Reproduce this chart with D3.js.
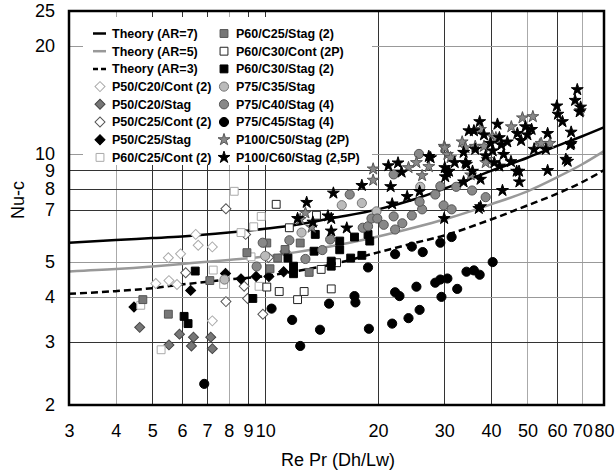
<!DOCTYPE html>
<html>
<head>
<meta charset="utf-8">
<script src="https://cdn.jsdelivr.net/npm/d3@7"></script>
<style>
  body { margin: 0; background: #fff; }
  text { font-family: "Liberation Sans", Arial, sans-serif; }
</style>
</head>
<body>
<script>
//==============================================================================
// DATA
//==============================================================================

const xTicks = [3, 4, 5, 6, 7, 8, 9, 10, 20, 30, 40, 50, 60, 70, 80];
const yTicks = [2, 3, 4, 5, 7, 8, 9, 10, 20, 25];
const xGrid = [4, 5, 6, 7, 8, 9, 10, 20, 30, 40, 50, 60, 70];
const yGrid = [3, 4, 5, 7, 8, 9, 10, 20];

// theory curves
const theoryX = [3, 4, 5, 6, 8, 10, 12, 15, 20, 25, 30, 40, 50, 60, 70, 80];
const theoryAR7 = [5.66, 5.76, 5.83, 5.89, 6.04, 6.19, 6.34, 6.62, 7.01, 7.48, 8.00, 8.97, 9.76, 10.53, 11.2, 11.86];
const theoryAR5 = [4.71, 4.78, 4.86, 4.94, 5.07, 5.18, 5.32, 5.53, 5.89, 6.24, 6.57, 7.24, 7.87, 8.61, 9.36, 10.18];
const theoryAR3 = [4.08, 4.15, 4.23, 4.33, 4.47, 4.57, 4.71, 4.92, 5.32, 5.65, 5.93, 6.57, 7.19, 7.75, 8.35, 9.01];

// measured points [RePr(Dh/Lw), Nu-c]
const p50c20Cont = [[5.11, 4.36], [5.54, 4.44], [5.82, 4.33], [5.52, 5.14], [5.95, 5.27], [6.53, 5.97],
  [6.63, 5.57], [7.23, 5.51], [7.23, 3.43]];
const p50c20Stag = [[4.63, 3.29], [5.54, 2.94], [5.91, 3.15], [6.44, 3.09], [6.36, 2.92], [7.16, 3.09], [7.23, 2.87]];
const p50c25Cont = [[6.14, 4.67], [7.86, 7.04], [7.86, 3.88], [8.79, 4.28], [8.87, 5.97], [8.98, 3.96],
  [9.86, 3.58], [10.2, 5.15], [11.3, 5.35]];
const p50c25Stag = [[4.47, 3.75], [6.33, 4.17], [7.84, 4.65], [8.62, 4.49], [9.46, 4.56], [10.23, 4.56], [11.2, 4.70]];
const p60c25Cont = [[5.28, 2.85], [4.66, 3.79], [7.27, 4.75], [7.75, 4.33], [8.27, 7.87], [8.62, 6.04],
  [9.32, 6.27], [9.76, 6.70], [9.63, 4.28], [9.17, 5.17]];
const p60c25Stag = [[4.72, 3.93], [5.52, 3.58], [7.12, 4.44], [8.94, 5.31], [10.3, 4.79], [11.3, 5.42],
  [12.4, 5.65], [13.1, 4.68], [10.1, 5.65], [10.8, 5.13]];
const p60c30Cont = [[10.7, 7.24], [10.9, 4.14], [12.7, 4.14], [15.0, 4.21], [12.2, 3.93], [13.7, 6.75],
  [11.6, 6.23], [14.1, 4.77], [15.5, 4.98], [10.1, 4.26]];
const p60c30Stag = [[6.51, 4.72], [6.08, 3.53], [6.23, 3.37], [9.27, 3.96], [11.9, 4.87], [11.9, 4.64],
  [13.5, 5.36], [13.6, 5.97], [15.0, 5.03], [15.0, 4.87], [15.8, 5.72], [15.8, 5.41], [16.9, 5.13],
  [18.1, 5.22], [17.3, 5.87], [18.8, 5.97], [19.0, 5.72], [11.5, 5.13]];
const p75c35Stag = [[7.79, 4.47], [12.5, 6.04], [16.0, 7.20], [18.1, 7.30], [19.8, 6.92], [10.0, 5.2], [25.9, 8.1]];
const p75c40Stag = [[9.85, 5.66], [9.49, 4.86], [11.6, 5.75], [12.8, 5.10], [14.2, 5.40], [14.9, 5.78],
  [16.8, 7.71], [18.2, 6.23], [18.8, 6.29], [19.2, 6.61], [19.9, 6.61], [20.7, 6.35], [22.0, 6.70],
  [22.2, 6.16], [23.2, 6.41], [24.6, 6.74], [26.2, 7.01], [25.8, 7.36], [22.0, 8.77], [25.7, 10.0],
  [29.3, 8.13], [29.9, 7.19], [31.4, 7.01], [32.3, 8.10], [35.6, 7.91], [38.7, 7.58], [28.4, 7.71]];
const p75c45Stag = [[6.88, 2.29], [10.4, 3.71], [11.8, 3.45], [12.4, 2.92], [14.0, 3.24], [14.8, 3.83],
  [17.3, 4.02], [17.4, 3.86], [18.9, 3.26], [18.8, 4.83], [21.8, 3.37], [22.2, 4.12], [22.8, 4.02],
  [24.1, 3.49], [25.3, 4.27], [25.8, 3.68], [28.4, 4.38], [29.3, 4.47], [30.6, 4.50], [29.5, 4.00],
  [32.5, 4.21], [34.4, 4.70], [36.0, 4.74], [37.3, 4.61], [40.4, 5.00], [22.2, 5.26], [24.6, 5.52],
  [26.3, 5.33], [29.3, 5.66], [31.4, 5.87]];
const p100c50Stag = [[12.8, 6.85], [12.4, 6.57], [13.3, 6.25], [19.4, 9.08], [19.4, 8.45], [24.1, 9.16],
  [25.3, 9.46], [26.2, 8.70], [27.3, 9.22], [30.0, 10.5], [30.6, 9.97], [30.1, 10.4], [33.5, 10.8],
  [34.2, 10.4], [36.3, 10.5], [37.5, 11.7], [40.3, 11.2], [41.2, 11.1], [45.3, 11.9], [48.5, 12.6],
  [51.7, 12.7], [38.3, 10.5], [39.0, 9.66], [38.7, 9.46], [31.2, 9.76], [35.3, 8.74], [53.9, 10.6],
  [57.4, 10.7], [54.4, 10.7], [69.2, 13.2]];
const p100c60Stag = [[12.9, 7.33], [15.2, 7.78], [18.1, 8.17], [21.6, 8.11], [21.3, 9.27], [22.6, 9.44],
  [23.1, 8.90], [27.3, 9.84], [23.9, 7.61], [25.8, 7.86], [13.4, 6.46], [15.0, 6.61], [16.5, 6.22],
  [15.0, 6.10], [12.2, 6.61], [30.1, 9.16], [32.0, 9.46], [30.5, 8.87], [34.2, 9.46], [35.7, 8.95],
  [37.3, 12.3], [34.9, 11.6], [36.0, 11.6], [38.3, 11.3], [41.6, 12.1], [42.1, 11.1], [43.2, 9.97],
  [45.2, 9.52], [47.5, 8.95], [47.6, 8.36], [42.9, 7.91], [56.6, 8.99], [64.0, 9.54], [65.4, 10.7],
  [56.6, 11.4], [59.9, 13.6], [60.3, 12.9], [62.0, 12.3], [67.9, 15.1], [67.0, 14.1], [69.3, 13.5],
  [68.9, 13.1], [65.4, 11.5], [52.1, 10.3], [50.0, 11.3], [49.4, 11.9], [51.3, 11.7], [48.1, 10.9],
  [44.2, 10.8], [42.6, 10.6], [39.9, 10.7], [36.3, 10.3], [33.8, 10.1], [40.4, 10.2], [38.7, 9.88],
  [40.8, 9.46], [37.5, 8.50], [33.8, 8.36], [37.5, 7.13], [30.0, 6.61], [56.0, 10.3], [63.3, 9.66],
  [65.1, 10.6], [47.0, 11.4], [30.9, 8.95], [30.2, 8.64], [27.6, 9.76], [46.8, 8.95], [42.1, 9.25],
  [34.4, 9.36], [14.7, 6.72], [21.8, 7.26], [37.1, 7.05]];

//==============================================================================
// PARAMETERS
//==============================================================================

const W = 616, H = 476;
const plot = { left: 69, right: 604, top: 11, bottom: 405 };

const x = d3.scaleLog().domain([3, 80]).range([plot.left, plot.right]);
const y = d3.scaleLog().domain([2, 25]).range([plot.bottom, plot.top]);

const lightX = new Set([4, 8, 50, 70]);
const lightY = new Set([4, 5, 10, 20]);

const theories = [
  { name: 'Theory (AR=7)', values: theoryAR7, color: '#000', dash: null, legendDash: null },
  { name: 'Theory (AR=5)', values: theoryAR5, color: '#999', dash: null, legendDash: null },
  { name: 'Theory (AR=3)', values: theoryAR3, color: '#000', dash: '7,4', legendDash: '5,3' }
];

const series = [
  { name: 'P50/C20/Cont (2)', data: p50c20Cont, shape: 'diamond', fill: '#fff', stroke: '#aaa' },
  { name: 'P50/C20/Stag', data: p50c20Stag, shape: 'diamond', fill: '#777', stroke: '#444' },
  { name: 'P50/C25/Cont (2)', data: p50c25Cont, shape: 'diamond', fill: '#fff', stroke: '#555' },
  { name: 'P50/C25/Stag', data: p50c25Stag, shape: 'diamond', fill: '#000', stroke: '#000' },
  { name: 'P60/C25/Cont (2)', data: p60c25Cont, shape: 'square', fill: '#fff', stroke: '#aaa' },
  { name: 'P60/C25/Stag (2)', data: p60c25Stag, shape: 'square', fill: '#777', stroke: '#555' },
  { name: 'P60/C30/Cont (2P)', data: p60c30Cont, shape: 'square', fill: '#fff', stroke: '#222' },
  { name: 'P60/C30/Stag (2)', data: p60c30Stag, shape: 'square', fill: '#000', stroke: '#000' },
  { name: 'P75/C35/Stag', data: p75c35Stag, shape: 'circle', fill: '#bbb', stroke: '#777' },
  { name: 'P75/C40/Stag (4)', data: p75c40Stag, shape: 'circle', fill: '#888', stroke: '#555' },
  { name: 'P75/C45/Stag (4)', data: p75c45Stag, shape: 'circle', fill: '#000', stroke: '#000' },
  { name: 'P100/C50/Stag (2P)', data: p100c50Stag, shape: 'star', fill: '#888', stroke: '#555' },
  { name: 'P100/C60/Stag (2,5P)', data: p100c60Stag, shape: 'star', fill: '#000', stroke: '#000' }
];

const symbols = {
  diamond: d3.symbol().type(d3.symbolSquare).size(50),
  square: d3.symbol().type(d3.symbolSquare).size(62),
  circle: d3.symbol().type(d3.symbolCircle).size(66),
  star: d3.symbol().type(d3.symbolStar).size(44)
};
const rot = s => s.shape === 'diamond' ? ' rotate(45)' : '';

const svg = d3.select('body').append('svg')
  .attr('width', W)
  .attr('height', H);

svg.append('rect').attr('width', W).attr('height', H).attr('fill', '#fff');

//==============================================================================
// DRAW
//==============================================================================

// grid lines
svg.append('g').selectAll('line')
  .data(xGrid)
  .enter().append('line')
  .attr('x1', d => Math.round(x(d)) + 0.5).attr('x2', d => Math.round(x(d)) + 0.5)
  .attr('y1', plot.top).attr('y2', plot.bottom)
  .attr('stroke', d => lightX.has(d) ? '#aaa' : '#333')
  .attr('stroke-width', 1);

svg.append('g').selectAll('line')
  .data(yGrid)
  .enter().append('line')
  .attr('y1', d => Math.round(y(d)) + 0.5).attr('y2', d => Math.round(y(d)) + 0.5)
  .attr('x1', plot.left).attr('x2', plot.right)
  .attr('stroke', d => lightY.has(d) ? '#999' : '#333')
  .attr('stroke-width', 1);

// axes (labels only)
const xAxis = svg.append('g')
  .attr('transform', `translate(0,${plot.bottom})`)
  .call(d3.axisBottom(x).tickValues(xTicks).tickFormat(d3.format('d')).tickSize(0).tickPadding(19));
const yAxis = svg.append('g')
  .attr('transform', `translate(${plot.left},0)`)
  .call(d3.axisLeft(y).tickValues(yTicks).tickFormat(d3.format('d')).tickSize(0).tickPadding(14));
[xAxis, yAxis].forEach(a => {
  a.select('.domain').remove();
  a.selectAll('text').style('font-size', '18px').attr('fill', '#000')
    .style('font-family', '"Liberation Sans", Arial, sans-serif');
});

// axis titles
svg.append('text')
  .attr('x', 338).attr('y', 466)
  .attr('text-anchor', 'middle')
  .style('font-size', '18px')
  .text('Re Pr (Dh/Lw)');
svg.append('text')
  .attr('transform', 'translate(24,200) rotate(-90)')
  .attr('text-anchor', 'middle')
  .style('font-size', '18px')
  .text('Nu-c');

// legend background
svg.append('rect')
  .attr('x', 83).attr('y', 17).attr('width', 289).attr('height', 148)
  .attr('fill', '#fff');

// theory curves
const line = d3.line()
  .x((d, i) => x(theoryX[i]))
  .y(d => y(d))
  .curve(d3.curveMonotoneX);

svg.append('g').selectAll('path')
  .data(theories)
  .enter().append('path')
  .attr('d', d => line(d.values))
  .attr('fill', 'none')
  .attr('stroke', d => d.color)
  .attr('stroke-width', 2.5)
  .attr('stroke-dasharray', d => d.dash);

// points
series.forEach(s => {
  svg.append('g').selectAll('path')
    .data(s.data)
    .enter().append('path')
    .attr('transform', d => `translate(${x(d[0])},${y(d[1])})` + rot(s))
    .attr('d', symbols[s.shape]())
    .attr('fill', s.fill)
    .attr('stroke', s.stroke)
    .attr('stroke-width', 1);
});

// plot border
svg.append('rect')
  .attr('x', plot.left).attr('y', plot.top)
  .attr('width', plot.right - plot.left).attr('height', plot.bottom - plot.top)
  .attr('fill', 'none').attr('stroke', '#000').attr('stroke-width', 2.5);

// legend
const legendItems = theories.map(t => ({ kind: 'line', t }))
  .concat(series.map(s => ({ kind: 'symbol', s })));
const rowY = i => 33.5 + (i % 8) * 17.7;
const colX = i => i < 8 ? 100 : 224;

const legend = svg.append('g').selectAll('g')
  .data(legendItems)
  .enter().append('g')
  .attr('transform', (d, i) => `translate(${colX(i)},${rowY(i)})`);

legend.filter(d => d.kind === 'line').append('line')
  .attr('x1', -7).attr('x2', 6)
  .attr('stroke', d => d.t.color)
  .attr('stroke-width', 2.5)
  .attr('stroke-dasharray', d => d.t.legendDash);

legend.filter(d => d.kind === 'symbol').append('path')
  .attr('transform', d => rot(d.s).trim())
  .attr('d', d => symbols[d.s.shape]())
  .attr('fill', d => d.s.fill)
  .attr('stroke', d => d.s.stroke);

legend.append('text')
  .attr('x', 12)
  .attr('dy', '0.35em')
  .style('font-size', '12.5px')
  .style('font-weight', 'bold')
  .text(d => d.kind === 'line' ? d.t.name : d.s.name);
</script>
</body>
</html>
